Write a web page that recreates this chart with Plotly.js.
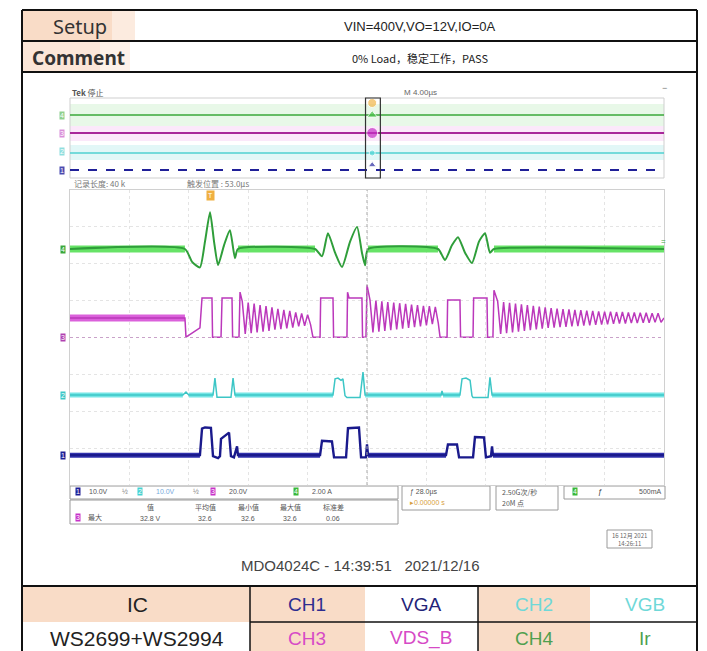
<!DOCTYPE html>
<html><head><meta charset="utf-8">
<script src="https://cdn.plot.ly/plotly-3.0.1.min.js"></script>
<style>html,body{margin:0;padding:0;background:#fff}#chart{width:707px;height:651px}</style>
</head><body><div id="chart"></div>
<script>
// ---------- data (time in µs, amplitude in screen divisions) ----------
const ch4T = [0,7.74,8.22,8.75,9.09,9.43,9.70,9.97,10.37,10.77,11.11,11.31,16.50,16.97,17.37,17.85,18.32,18.86,19.33,19.66,19.87,20.07,24.78,25.25,25.72,26.13,26.60,27.07,27.54,27.95,28.28,28.55,40];
const ch4V = [2.40,2.40,2.05,1.90,2.60,3.40,2.60,1.96,2.50,2.91,2.15,2.40,2.40,2.20,2.83,2.30,1.91,2.60,3.00,2.30,1.96,2.40,2.40,2.10,2.50,2.72,2.30,2.02,2.60,2.83,2.30,2.40,2.40];

const ch3T = [0,7.74,7.81,8.75,8.89,9.56,9.60,10.17,10.24,10.91,10.95,11.38,11.45,
 11.6,11.8,12.0,12.2,12.4,12.6,12.8,13.0,13.2,13.4,13.6,13.8,14.0,14.2,14.4,14.6,14.8,15.0,15.2,15.4,15.6,15.8,16.0,16.2,
 16.36,16.84,16.88,17.71,17.75,18.65,18.69,18.79,19.66,19.70,19.93,20.00,
 20.2,20.4,20.6,20.8,21.0,21.2,21.4,21.6,21.8,22.0,22.2,22.4,22.6,22.8,23.0,23.2,23.4,23.6,23.8,24.0,24.2,24.4,24.6,24.8,
 24.92,25.39,25.43,26.26,26.30,27.14,27.18,28.08,28.12,28.48,28.55,
 28.8,29.0,29.2,29.4,29.6,29.8,30.0,30.2,30.4,30.6,30.8,31.0,31.2,31.4,31.6,31.8,32.0,32.2,32.4,32.6,32.8,33.0,33.2,33.4,33.6,33.8,34.0,34.2,
 34.4,34.6,34.8,35.0,35.2,35.4,35.6,35.8,36.0,36.2,36.4,36.6,36.8,37.0,37.2,37.4,37.6,37.8,38.0,38.2,38.4,38.6,38.8,39.0,39.2,39.4,39.6,39.8,
 40];
const ch3V = [0.53,0.53,0.01,0.26,1.07,1.07,0.01,0.01,1.07,1.07,0.01,0.01,1.23,
 0.98,0.10,0.95,0.12,0.92,0.14,0.88,0.16,0.85,0.18,0.82,0.21,0.78,0.23,0.75,0.25,0.72,0.27,0.68,0.30,0.65,0.32,0.62,0.35,
 0.01,0.01,1.07,1.07,0.01,0.01,1.23,1.07,1.07,0.01,0.01,1.42,
 1.02,0.14,1.00,0.16,0.98,0.18,0.96,0.20,0.95,0.22,0.93,0.24,0.91,0.26,0.89,0.28,0.88,0.30,0.86,0.33,0.85,0.36,0.83,0.39,
 0.01,0.01,1.02,1.02,0.01,0.01,1.07,1.07,0.01,0.01,1.28,
 0.98,0.10,0.96,0.12,0.94,0.14,0.92,0.16,0.90,0.18,0.88,0.20,0.86,0.22,0.84,0.24,0.82,0.26,0.80,0.27,0.78,0.28,0.77,0.29,0.76,0.30,0.75,0.31,
 0.74,0.32,0.73,0.33,0.72,0.34,0.71,0.35,0.70,0.36,0.70,0.37,0.69,0.38,0.69,0.38,0.68,0.39,0.68,0.39,0.67,0.40,0.67,0.40,0.66,0.41,0.66,0.41,
 0.53];

const ch2T = [0,7.6,7.81,8.0,9.63,9.76,9.90,10.84,10.98,11.11,17.71,17.85,18.05,18.25,18.38,18.52,18.65,19.53,19.73,19.87,25.00,25.05,25.12,26.26,26.40,26.67,26.94,27.07,27.14,28.15,28.28,28.42,40];
const ch2V = [-1.56,-1.56,-1.48,-1.56,-1.56,-1.10,-1.62,-1.62,-1.10,-1.56,-1.56,-1.12,-1.10,-1.16,-1.12,-1.58,-1.63,-1.63,-0.94,-1.56,-1.56,-1.45,-1.56,-1.56,-1.12,-1.10,-1.16,-1.58,-1.63,-1.63,-1.08,-1.56,-1.56];

const ch1T = [0,8.75,8.89,9.09,9.49,9.63,9.97,10.10,10.17,10.71,10.84,11.04,11.25,11.31,
 16.84,16.97,17.64,17.78,18.59,18.72,19.46,19.60,19.93,20.00,20.07,
 25.32,25.45,26.06,26.20,27.14,27.27,27.88,28.01,28.35,28.42,28.48,40];
const ch1V = [-3.19,-3.19,-2.47,-2.44,-2.45,-3.22,-3.27,-3.22,-2.75,-2.58,-3.22,-3.25,-2.95,-3.19,
 -3.19,-2.80,-2.82,-3.25,-3.25,-2.46,-2.44,-3.25,-3.25,-2.90,-3.19,
 -3.19,-2.90,-2.90,-3.25,-3.25,-2.70,-2.71,-3.25,-3.22,-2.95,-3.19,-3.19];

// overview strip (whole record, compressed)
const ovT = [0, 40];
const ovLevels = {ch4: 3.15, ch3: 2.25, ch2: 1.25, ch1: 0.4};
const triggerT = 9.43;

// table texts
const setupText = "VIN=400V,VO=12V,IO=0A";
const commentText = "0% Load，稳定工作，PASS";
const footerText = "MDO4024C - 14:39:51   2021/12/16";
const icName = "WS2699+WS2994";
const chanCells = [["CH1","VGA"],["CH2","VGB"],["CH3","VDS_B"],["CH4","Ir"]];

// ---------- drawing ----------
const W = 707, H = 651;
const P = x => x / W, Q = y => 1 - y / H;
const SANS = "Liberation Sans, Arial, sans-serif";
const CJK = "Noto Sans CJK SC, Noto Sans, sans-serif";

function band(T, V, color, width) {
  const base = V[0]; const xs = [], ys = [];
  for (let i = 0; i < T.length - 1; i++) {
    if (V[i] === base && V[i+1] === base) { xs.push(T[i], T[i+1], null); ys.push(base, base, null); }
  }
  return {x: xs, y: ys, type:'scatter', mode:'lines', line:{color, width}, hoverinfo:'skip', showlegend:false};
}
const traces = [
  band(ch4T, ch4V, 'rgba(95,225,95,0.95)', 7),
  {x: ch4T, y: ch4V, type:'scatter', mode:'lines', line:{color:'#2f9e3a', width:2, shape:'spline', smoothing:0.55}, showlegend:false},
  band(ch3T, ch3V, 'rgba(215,80,215,0.9)', 7),
  {x: ch3T, y: ch3V, type:'scatter', mode:'lines', line:{color:'#bb38bb', width:1.5}, showlegend:false},
  band(ch2T, ch2V, 'rgba(110,228,228,0.95)', 5),
  {x: ch2T, y: ch2V, type:'scatter', mode:'lines', line:{color:'#3cc6c6', width:1.5}, showlegend:false},
  band(ch1T, ch1V, 'rgba(40,40,170,0.95)', 5),
  {x: ch1T, y: ch1V, type:'scatter', mode:'lines', line:{color:'#1a1a8c', width:2.4}, showlegend:false},
  // overview strip
  {x: ovT, y: [ovLevels.ch4, ovLevels.ch4], xaxis:'x2', yaxis:'y2', mode:'lines', line:{color:'#3aa83a', width:1.5}, showlegend:false},
  {x: ovT, y: [ovLevels.ch3, ovLevels.ch3], xaxis:'x2', yaxis:'y2', mode:'lines', line:{color:'#a8279a', width:1.8}, showlegend:false},
  {x: ovT, y: [ovLevels.ch2, ovLevels.ch2], xaxis:'x2', yaxis:'y2', mode:'lines', line:{color:'#4fd0d0', width:1.5}, showlegend:false},
  {x: ovT, y: [ovLevels.ch1, ovLevels.ch1], xaxis:'x2', yaxis:'y2', mode:'lines', line:{color:'#202098', width:2.2, dash:'dash'}, showlegend:false},
  {x: [20.35,20.35,20.35,20.35,20.35], y: [3.75, ovLevels.ch4, ovLevels.ch3, ovLevels.ch2, ovLevels.ch1+0.25], xaxis:'x2', yaxis:'y2', mode:'markers',
   marker:{size:[9,9,11,6,7], color:['#f2b64a','#46c046','#c62fc6','#5ad8d8','#2a2aa0'], symbol:['circle','triangle-up','circle','circle','triangle-up']}, showlegend:false}
];

const shapes = [];
function R(x0,y0,x1,y1,fill,lc,lw){ shapes.push({type:'rect', xref:'paper', yref:'paper', x0:P(x0), x1:P(x1), y0:Q(y1), y1:Q(y0), fillcolor:fill||'rgba(0,0,0,0)', line:{color:lc||'rgba(0,0,0,0)', width:lw||0}, layer:'below'}); }
function L(x0,y0,x1,y1,c,w,dash){ shapes.push({type:'line', xref:'paper', yref:'paper', x0:P(x0), x1:P(x1), y0:Q(y0), y1:Q(y1), line:{color:c, width:w, dash:dash||'solid'}, layer:'above'}); }

// header table
const PEACH = '#f9dcc7';
R(22,10,112,41,PEACH); R(112,10,135,41,'#fcebdf');
R(22,41,100,72,'#fbe6d8'); R(100,41,130,72,'#fdf1e9');
// footer table
R(22,586,250,622,PEACH); R(250,586,365,622,PEACH); R(478,586,590,622,PEACH);
R(250,622,365,651,PEACH); R(478,622,590,651,PEACH);
// strip bands
R(70,104,664,126,'#e8f8e8'); R(70,126,664,141,'#fbe8fa'); R(70,145,664,160,'#e2f7f7');
R(70,98,664,178,null,'#cfcfcf',1);
// info boxes
R(70,486,398,499,null,'#9a9a9a',1); R(70,500,398,524,null,'#9a9a9a',1);
R(402,486,490,510,null,'#9a9a9a',1); R(496,486,558,510,null,'#9a9a9a',1); R(564,486,665,499,null,'#9a9a9a',1);
R(607,530,652,548,null,'#9a9a9a',1);

// table lines
L(22,10,697,10,'#111',2); L(22,41,697,41,'#111',2); L(22,72,697,72,'#111',2);
L(22,10,22,651,'#111',2); L(697,10,697,651,'#111',2);
L(22,586,697,586,'#111',2); L(250,622,697,622,'#111',1.5);
L(250,586,250,651,'#111',1.5); L(478,586,478,651,'#111',1.5);
// overview selection bracket
shapes.push({type:'rect', xref:'x2', yref:'paper', x0:19.9, x1:20.9, y0:Q(178), y1:Q(98), line:{color:'#333', width:1.2}, fillcolor:'rgba(0,0,0,0)'});
// graticule centre lines
shapes.push({type:'line', xref:'x', yref:'y', x0:20, x1:20, y0:-4, y1:4, line:{color:'#a8a8a8', width:1, dash:'dot'}});
shapes.push({type:'line', xref:'x', yref:'y', x0:0, x1:40, y0:0, y1:0, line:{color:'#c9a2c9', width:1, dash:'dot'}});

const ann = [];
function A(text,x,y,size,color,extra){ ann.push(Object.assign({text, x:P(x), y:Q(y), xref:'paper', yref:'paper', showarrow:false, xanchor:'center', yanchor:'middle', font:{size, color, family:SANS}}, extra||{})); }

A('Setup',80,26,20,'#333',{font:{size:20,color:'#333',family:'Noto Sans, sans-serif'}});
A(setupText,420,26,13,'#333',{font:{size:13,color:'#222',family:'Liberation Sans Narrow, Liberation Sans'}});
A('<b>Comment</b>',78,58,19,'#333',{font:{size:19,color:'#333',family:'Noto Sans, sans-serif'}});
A(commentText,420,58,11,'#333',{font:{size:11,color:'#222',family:CJK}});

A('<b>Tek</b> 停止',70,92,8,'#555',{xanchor:'left', font:{size:8,color:'#555',family:CJK}});
A('M 4.00µs',402,92,8,'#666',{xanchor:'left'});
A('−',664,88,9,'#777');
A('记录长度: 40 k',72,183,8,'#777',{xanchor:'left', font:{size:8,color:'#777',family:CJK}});
A('触发位置 : 53.0µs',185,183,8,'#777',{xanchor:'left', font:{size:8,color:'#777',family:CJK}});

// channel markers
const mk = (t,x,y,c)=>A(t,x,y,7,'#fff',{bgcolor:c, borderpad:0});
mk('4',62,116,'#8fd08f'); mk('3',62,134,'#d98fd9'); mk('2',62,152,'#8fdede'); mk('1',62,170,'#4a4ab0');
mk('4',63,249,'#3aa83a'); mk('3',63,337,'#b040b0'); mk('2',63,395,'#3cc6c6'); mk('1',63,455,'#1e1e96');
A('=',663,241,8,'#3aa83a');
ann.push({text:'T', x:triggerT, y:Q(196), xref:'x', yref:'paper', yanchor:'middle', showarrow:false, font:{size:7,color:'#fff', family:SANS}, bgcolor:'#f0b040', borderpad:1});

// info boxes
const cm = (t,x,y,c)=>A(t,x,y,7,'#fff',{bgcolor:c, borderpad:0});
cm('1',78,492,'#1e1e96'); A('10.0V',98,492,7,'#555'); A('½',125,492,7,'#888');
cm('2',140,492,'#45d2d2'); A('10.0V',165,492,7,'#7ad'); A('½',196,492,7,'#888');
cm('3',213,492,'#c832c8'); A('20.0V',238,492,7,'#555');
cm('4',296,492,'#38b838'); A('2.00 A',322,492,7,'#555');
cm('3',78,517,'#c832c8'); A('最大',95,517,7,'#555',{font:{size:7,color:'#555',family:CJK}});
const mh = ['值','平均值','最小值','最大值','标准差'], mv = ['32.8 V','32.6','32.6','32.6','0.06'], mx=[150,205,248,290,333];
mh.forEach((h,i)=>{A(h,mx[i],507,7,'#555',{font:{size:7,color:'#555',family:CJK}}); A(mv[i],mx[i],518,7,'#555');});
A('ƒ 28.0µs',408,492,7,'#555',{xanchor:'left'}); A('▸0.00000 s',408,503,7,'#d8a040',{xanchor:'left'});
A('2.50G次/秒',500,492,7,'#555',{xanchor:'left', font:{size:7,color:'#555',family:CJK}}); A('20M 点',500,503,7,'#555',{xanchor:'left', font:{size:7,color:'#555',family:CJK}});
cm('4',575,492,'#38b838'); A('ƒ',600,492,8,'#444'); A('500mA',650,492,7,'#555');
A('16 12月 2021<br>14:26:11',629,539,6,'#666',{font:{size:6,color:'#666',family:CJK}});

A(footerText,360,565,15,'#444',{font:{size:15,color:'#444',family:'Liberation Sans, Arial'}});

A('IC',137,604,21,'#222');
A(icName,137,638,21,'#222');
const cellX = [[307,421],[534,645],[307,421],[534,645]], cellY=[604,604,638,638];
const cellC = ['#2d2d8f','#6fd8d8','#d64ac6','#4f9f4f'];
chanCells.forEach((c,i)=>{ A(c[0],cellX[i][0],cellY[i],19,cellC[i]); A(c[1],cellX[i][1],cellY[i],19,i===0?'#232378':cellC[i]); });

const layout = {
  width:W, height:H, margin:{l:0,r:0,t:0,b:0}, paper_bgcolor:'#fff', plot_bgcolor:'rgba(0,0,0,0)',
  showlegend:false,
  xaxis:{domain:[P(70),P(664)], range:[0,40], dtick:4, tick0:0, showticklabels:false, ticks:'', showgrid:true, gridcolor:'#e4e4e4', griddash:'dot', zeroline:false, showline:true, mirror:true, linecolor:'#d0d0d0'},
  yaxis:{domain:[Q(485),Q(190)], range:[-4,4], dtick:1, showticklabels:false, ticks:'', showgrid:true, gridcolor:'#e4e4e4', griddash:'dot', zeroline:false, showline:true, mirror:true, linecolor:'#d0d0d0'},
  xaxis2:{domain:[P(70),P(664)], range:[0,40], anchor:'y2', showticklabels:false, showgrid:false, zeroline:false, ticks:''},
  yaxis2:{domain:[Q(178),Q(98)], range:[0,4], anchor:'x2', showticklabels:false, showgrid:false, zeroline:false, ticks:''},
  shapes, annotations:ann
};
Plotly.newPlot('chart', traces, layout, {staticPlot:true, displayModeBar:false});
</script></body></html>
